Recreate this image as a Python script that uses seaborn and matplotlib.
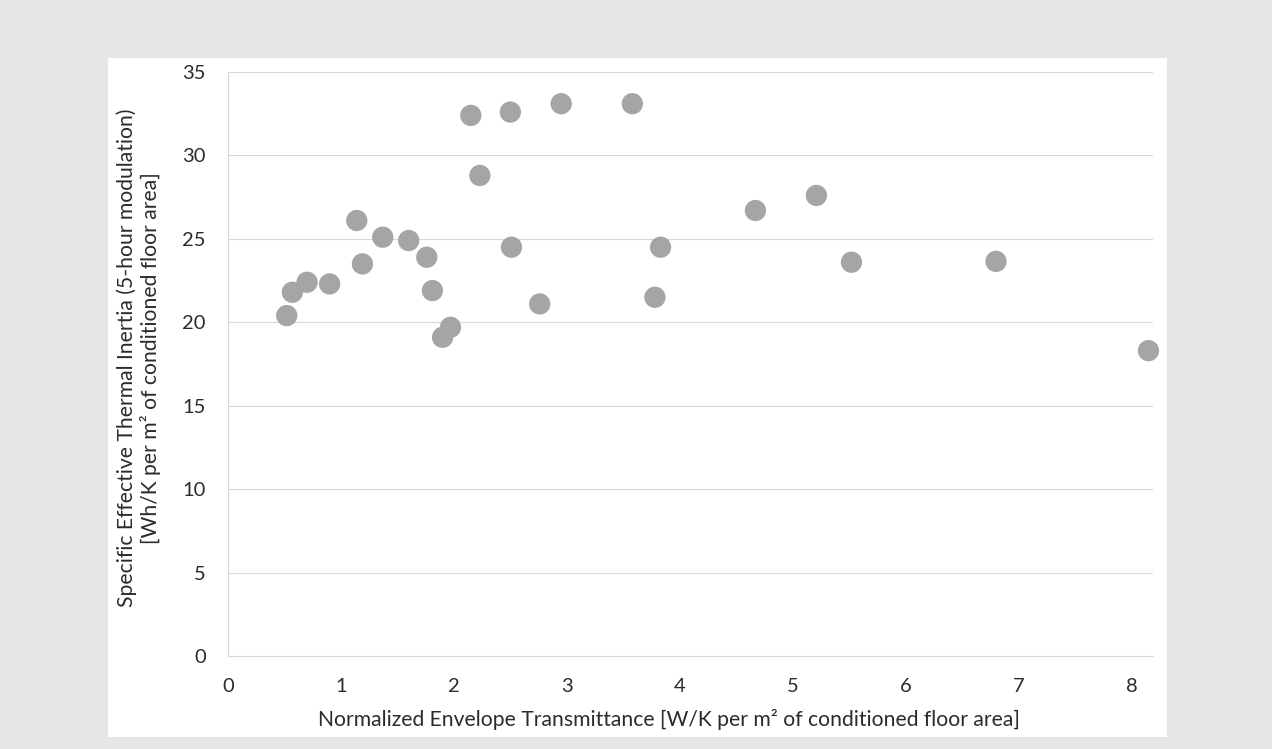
import matplotlib
matplotlib.use("Agg")
import matplotlib.pyplot as plt
import seaborn as sns
import pandas as pd
from matplotlib.patches import Rectangle

# Data
transmittance = [0.52, 0.57, 0.70, 0.90, 1.14, 1.19, 1.37, 1.60, 1.76, 1.81,
                 1.90, 1.97, 2.15, 2.23, 2.50, 2.51, 2.76, 2.95, 3.58, 3.78,
                 3.83, 4.67, 5.21, 5.52, 6.80, 8.15]
inertia = [20.4, 21.8, 22.4, 22.3, 26.1, 23.5, 25.1, 24.9, 23.9, 21.9,
           19.1, 19.7, 32.4, 28.8, 32.6, 24.5, 21.1, 33.1, 33.1, 21.5,
           24.5, 26.7, 27.6, 23.6, 23.65, 18.3]
x_ticks = [0, 1, 2, 3, 4, 5, 6, 7, 8]
y_ticks = [0, 5, 10, 15, 20, 25, 30, 35]

df = pd.DataFrame({"x": transmittance, "y": inertia})

sns.set_style("white")
plt.rcParams["font.family"] = ["Lato", "DejaVu Sans"]

W, H = 1272, 749
fig = plt.figure(figsize=(W / 100, H / 100), dpi=100)
fig.patch.set_facecolor("#e6e6e6")

# white chart area
bg = Rectangle((108 / W, 1 - 737 / H), (1167 - 108) / W, (737 - 58) / H,
               transform=fig.transFigure, facecolor="white",
               edgecolor="none", zorder=-10)
fig.add_artist(bg)

ax = fig.add_axes([228 / W, 1 - 656 / H, (1153 - 228) / W, (656 - 72) / H])
ax.set_zorder(1)
ax.set_facecolor("none")

sns.scatterplot(data=df, x="x", y="y", ax=ax, s=235, color="#a5a5a5",
                edgecolor="none", linewidth=0, zorder=3, clip_on=False)

ax.set_xlim(0, 8.19)
ax.set_ylim(0, 35)
ax.set_xticks(x_ticks)
ax.set_yticks(y_ticks)
ax.yaxis.grid(True, color="#d9d9d9", linewidth=0.8)
ax.xaxis.grid(False)
ax.set_axisbelow(True)

for s in ["top", "right"]:
    ax.spines[s].set_visible(False)
ax.spines["bottom"].set_color("#d9d9d9")
ax.spines["bottom"].set_linewidth(0.8)
ax.spines["left"].set_color("#d9d9d9")
ax.spines["left"].set_linewidth(0.8)
ax.spines["left"].set_linestyle((0, (1, 1)))

txt = "#2b2b2b"
ax.tick_params(axis="both", length=0, labelsize=14.5, labelcolor=txt)
ax.tick_params(axis="y", pad=16)
ax.tick_params(axis="x", pad=16)

ax.set_xlabel("Normalized Envelope Transmittance [W/K per m² of conditioned floor area]",
              fontsize=15.2, color=txt, va="center")
ax.xaxis.set_label_coords((669 - 228) / (1153 - 228), (656 - 719) / (656 - 72))

ax.set_ylabel("Specific Effective Thermal Inertia (5-hour modulation)\n"
              "[Wh/K per m² of conditioned floor area]",
              fontsize=15.2, color=txt, ha="center", va="center",
              linespacing=1.15)
ax.yaxis.set_label_coords((138.5 - 228) / (1153 - 228), (656 - 358) / (656 - 72))

fig.savefig("out.png", dpi=100, facecolor=fig.get_facecolor())
